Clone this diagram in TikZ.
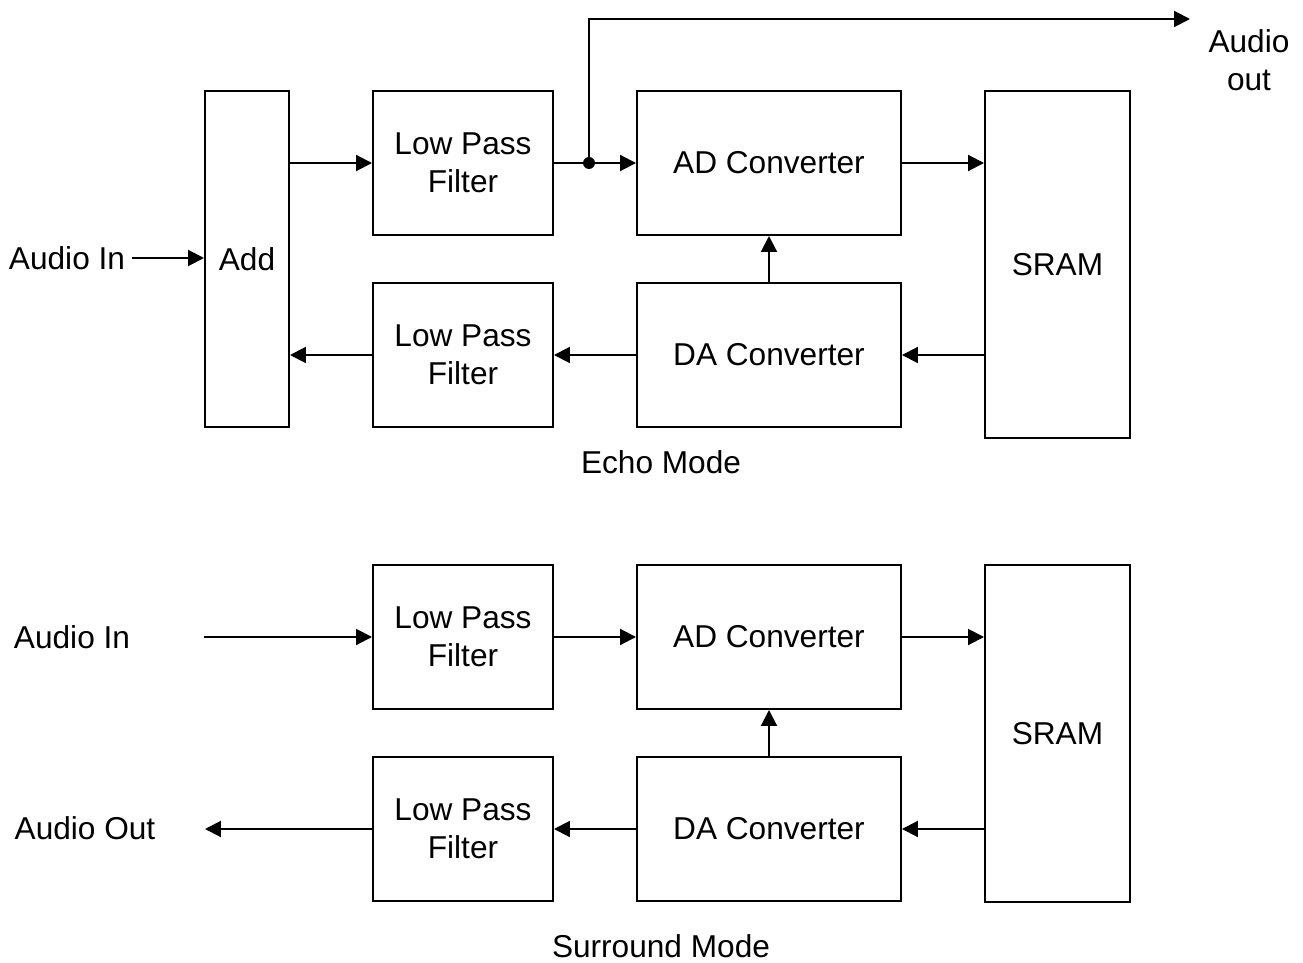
\documentclass[tikz,border=0pt]{standalone}
\usepackage{fontspec}
\setmainfont{Liberation Sans}
\usetikzlibrary{arrows.meta}
\begin{document}
\begin{tikzpicture}[x=0.02cm, y=-0.02cm, line width=0.04cm,
    every node/.style={font=\fontsize{18}{21.6}\selectfont, align=center},
    blk/.style={draw, inner sep=0pt, minimum height=2.88cm},
    arr/.style={-{Triangle[length=0.32cm,width=0.32cm]}}]{

    \useasboundingbox (0,0) rectangle (1303,963);

    % echo mode
    \node [blk, minimum width=1.68cm, minimum height=6.72cm] (Add) at (247,259) {Add};
    \node [blk, minimum width=3.6cm] (LPFa) at (463,163) {Low Pass\\Filter};
    \node [blk, minimum width=5.28cm] (ADa) at (769,163) {AD Converter};
    \node [blk, minimum width=2.9cm, minimum height=6.94cm] (SRAMa) at (1057.5,264.5) {SRAM};
    \node [blk, minimum width=3.6cm] (LPFb) at (463,355) {Low Pass\\Filter};
    \node [blk, minimum width=5.28cm] (DAa) at (769,355) {DA Converter};
    \node (inA) at (67,258) {Audio In};
    \node (outA) at (1249,60) {Audio\\out};
    \node (echo) at (661,462) {Echo Mode};
    \coordinate (tap) at (589,163);
    \coordinate (tapEnd) at (1190,19);

    \draw [arr] (inA.east) -- (Add.west |- inA);
    \draw [arr] (Add.east |- LPFa) -- (LPFa.west);
    \draw (LPFa.east) -- (tap);
    \draw [arr] (tap) -- (ADa.west);
    \draw [arr] (tap) |- (tapEnd);
    \fill (tap) circle (0.12cm);
    \draw [arr] (ADa.east) -- (ADa.east -| SRAMa.west);
    \draw [arr] (DAa.north) -- (ADa.south);
    \draw [arr] (SRAMa.west |- DAa.east) -- (DAa.east);
    \draw [arr] (DAa.west) -- (LPFb.east);
    \draw [arr] (LPFb.west) -- (LPFb.west -| Add.east);

    % surround mode
    \node [blk, minimum width=3.6cm] (LPFc) at (463,637) {Low Pass\\Filter};
    \node [blk, minimum width=5.28cm] (ADb) at (769,637) {AD Converter};
    \node [blk, minimum width=2.9cm, minimum height=6.74cm] (SRAMb) at (1057.5,733.5) {SRAM};
    \node [blk, minimum width=3.6cm] (LPFd) at (463,829) {Low Pass\\Filter};
    \node [blk, minimum width=5.28cm] (DAb) at (769,829) {DA Converter};
    \node (inB) at (72,637) {Audio In};
    \node (outB) at (85,828) {Audio Out};
    \node (surround) at (661,946) {Surround Mode};
    \coordinate (inBend) at (204,637);
    \coordinate (outBend) at (205,829);

    \draw [arr] (inBend) -- (LPFc.west);
    \draw [arr] (LPFc.east) -- (ADb.west);
    \draw [arr] (ADb.east) -- (ADb.east -| SRAMb.west);
    \draw [arr] (DAb.north) -- (ADb.south);
    \draw [arr] (SRAMb.west |- DAb.east) -- (DAb.east);
    \draw [arr] (DAb.west) -- (LPFd.east);
    \draw [arr] (LPFd.west) -- (outBend);
    }
\end{tikzpicture}
\end{document}
